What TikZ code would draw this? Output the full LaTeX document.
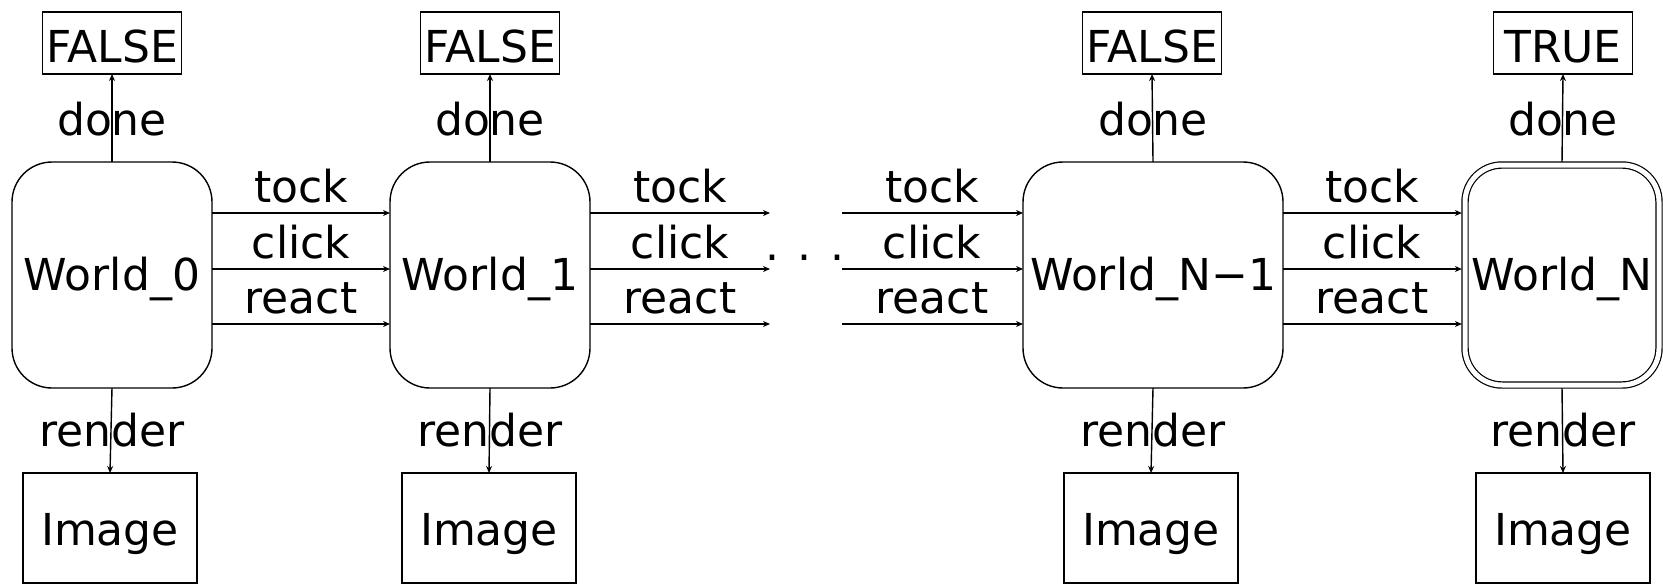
\documentclass[tikz,border=0pt]{standalone}
\usepackage{fontspec}
\setmainfont{DejaVu Sans}
\usetikzlibrary{arrows.meta}
\begin{document}
\begin{tikzpicture}[x=0.5pt,y=-0.5pt,
  every node/.style={font=\fontsize{22pt}{26pt}\selectfont, inner sep=0pt, outer sep=0pt},
  world/.style={draw, line width=0.7pt, rounded corners=20pt, minimum width=100pt, minimum height=113pt, text height=15pt, text depth=0pt},
  finalworld/.style={draw, line width=0.6pt, double, double distance=2.5pt, rounded corners=18.5pt, minimum width=97pt, minimum height=110pt, text height=15pt, text depth=0pt, outer sep=1.55pt},
  resultbox/.style={draw, line width=0.7pt, minimum width=69.5pt, minimum height=31pt, text height=19pt, text depth=0pt},
  imagebox/.style={draw, line width=0.7pt, minimum width=87pt, minimum height=55pt, text height=17pt, text depth=0pt},
  lbl/.style={anchor=base},
  conn/.style={line width=0.7pt, -{Stealth[length=3.5pt,width=3pt]}}
]
\useasboundingbox (0,0) rectangle (1663,584);

% worlds
\node[world] (w0) at (112,275) {World\_0};
\node[world] (w1) at (490,275) {World\_1};
\node[world, minimum width=130pt] (wn1) at (1153,275) {World\_N−1};
\node[finalworld] (wn) at (1562,275) {World\_N};

% results
\node[resultbox] (f0) at (112,43) {FALSE};
\node[resultbox] (f1) at (490,43) {FALSE};
\node[resultbox] (f2) at (1152,43) {FALSE};
\node[resultbox] (t3) at (1563,43) {TRUE};

% images
\node[imagebox] (i0) at (110,528) {Image};
\node[imagebox] (i1) at (489,528) {Image};
\node[imagebox] (i2) at (1151,528) {Image};
\node[imagebox] (i3) at (1563,528) {Image};

% done / render
\foreach \w/\r/\i in {w0/f0/i0, w1/f1/i1, wn1/f2/i2, wn/t3/i3} {
  \draw[conn] (\w.north) -- (\r.south);
  \draw[conn] (\w.south) -- (\i.north);
}
\node[lbl] (d0) at (112,135) {done};
\node[lbl] (d1) at (490,135) {done};
\node[lbl] (d2) at (1153,135) {done};
\node[lbl] (d3) at (1563,135) {done};
\node[lbl] (r0) at (112,446) {render};
\node[lbl] (r1) at (490,446) {render};
\node[lbl] (r2) at (1153,446) {render};
\node[lbl] (r3) at (1563,446) {render};

% free ends around the gap
\coordinate (ga1) at (770,213);
\coordinate (ga2) at (770,269);
\coordinate (ga3) at (770,324);
\coordinate (gb1) at (842,213);
\coordinate (gb2) at (842,269);
\coordinate (gb3) at (842,324);

% transitions
\draw[conn] (w0.east |- ga1) -- (w1.west |- ga1);
\draw[conn] (w0.east |- ga2) -- (w1.west |- ga2);
\draw[conn] (w0.east |- ga3) -- (w1.west |- ga3);
\draw[conn] (w1.east |- ga1) -- (ga1);
\draw[conn] (w1.east |- ga2) -- (ga2);
\draw[conn] (w1.east |- ga3) -- (ga3);
\draw[conn] (gb1) -- (wn1.west |- gb1);
\draw[conn] (gb2) -- (wn1.west |- gb2);
\draw[conn] (gb3) -- (wn1.west |- gb3);
\draw[conn] (wn1.east |- ga1) -- (wn.west |- ga1);
\draw[conn] (wn1.east |- ga2) -- (wn.west |- ga2);
\draw[conn] (wn1.east |- ga3) -- (wn.west |- ga3);

\foreach \x/\n in {301/a, 680/b, 932/c, 1372/d} {
  \node[lbl] (tk\n) at (\x,202) {tock};
  \node[lbl] (cl\n) at (\x,258) {click};
  \node[lbl] (re\n) at (\x,313) {react};
}

\node[lbl] (dots) at (805,260) {. . .};
\end{tikzpicture}
\end{document}
